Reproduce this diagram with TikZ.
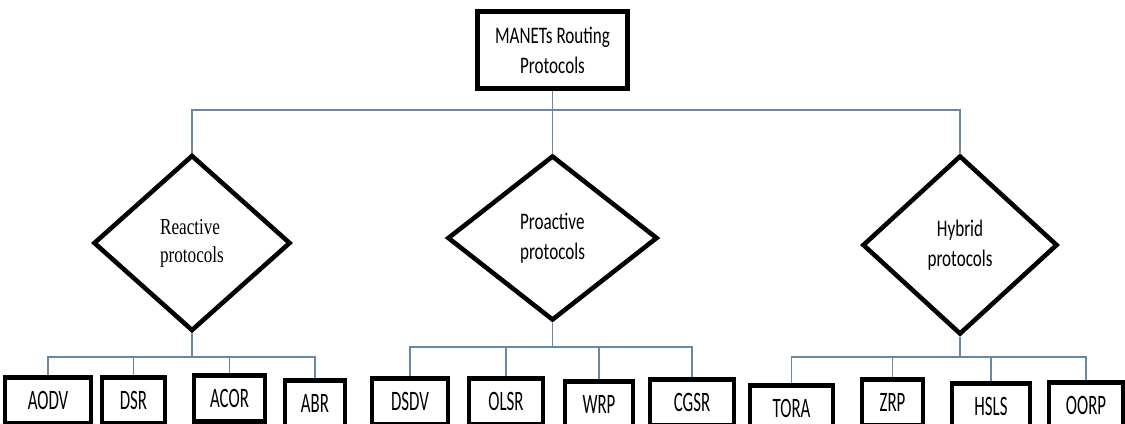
\documentclass[tikz,border=0pt]{standalone}
\usepackage{fontspec}
\setmainfont{Carlito}
\newfontfamily\headfont[FakeStretch=0.72]{Carlito}
\newfontfamily\boxfont[FakeStretch=0.6]{Carlito}
\newfontfamily\reactfont[FakeStretch=0.75]{Liberation Serif}
\usetikzlibrary{shapes.geometric,calc}
\definecolor{linkblue}{RGB}{105,135,165}
\tikzstyle{root}=[draw, line width=2.6pt, minimum width=3.0cm,
  minimum height=1.54cm, align=center,
  font=\headfont\fontsize{13.5}{17}\selectfont]
\tikzstyle{family}=[draw, diamond, line width=2.6pt, inner sep=0pt,
  font=\headfont\fontsize{13.5}{17}\selectfont]
\tikzstyle{proto}=[draw, line width=2.6pt, anchor=north, inner sep=0pt,
  minimum height=0.92cm, font=\boxfont\fontsize{16}{18}\selectfont]
\tikzstyle{link}=[draw=linkblue, line width=0.7pt]
\newcommand{\protobox}[3]{node (p#1) [proto, minimum width=#2cm]
  {#3}}

\begin{document}
\begin{tikzpicture}
  \useasboundingbox (0,0) rectangle (22.5,-8.46);

  \node (c0) [root] at (11.05,-1.0) {MANETs Routing\\Protocols};
  \node (c1) [family, minimum width=3.94cm, minimum height=3.52cm, align=left,
    font=\reactfont\fontsize{13}{16}\selectfont] at (3.84,-4.86) {Reactive\\protocols};
  \node (c2) [family, minimum width=4.2cm, minimum height=3.30cm, align=left]
    at (11.05,-4.76) {Proactive\\protocols};
  \node (c3) [family, minimum width=3.9cm, minimum height=3.58cm, align=center]
    at (19.2,-4.9) {Hybrid\\protocols};

  % reactive
  \path (0.96,-7.50) \protobox{1}{1.72}{AODV};
  \path (2.67,-7.50) \protobox{2}{1.26}{DSR};
  \path (4.59,-7.46) \protobox{3}{1.42}{ACOR};
  \path (6.30,-7.56) \protobox{4}{1.20}{ABR};
  % proactive
  \path (8.20,-7.52) \protobox{5}{1.52}{DSDV};
  \path (10.12,-7.52) \protobox{6}{1.48}{OLSR};
  \path (11.98,-7.58) \protobox{7}{1.36}{WRP};
  \path (13.84,-7.54) \protobox{8}{1.68}{CGSR};
  % hybrid
  \path (15.83,-7.66) \protobox{9}{1.66}{TORA};
  \path (17.85,-7.54) \protobox{10}{1.22}{ZRP};
  \path (19.82,-7.62) \protobox{11}{1.56}{HSLS};
  \path (21.72,-7.60) \protobox{12}{1.48}{OORP};

  % buses
  \coordinate (b0) at (11.05,-2.2);
  \coordinate (b1) at (3.84,-7.14);
  \coordinate (b2) at (11.05,-6.94);
  \coordinate (b3) at (19.2,-7.14);

  \draw [link] (c0.south) -- (b0);
  \draw [link] (b0) -| (c1.north);
  \draw [link] (b0) -- (c2.north);
  \draw [link] (b0) -| (c3.north);

  \draw [link] (c1.south) -- (b1);
  \draw [link] (c2.south) -- (b2);
  \draw [link] (c3.south) -- (b3);
  \foreach \i in {1,...,4}
    \draw [link] (b1) -| (p\i.north);
  \foreach \i in {5,...,8}
    \draw [link] (b2) -| (p\i.north);
  \foreach \i in {9,...,12}
    \draw [link] (b3) -| (p\i.north);
\end{tikzpicture}
\end{document}
